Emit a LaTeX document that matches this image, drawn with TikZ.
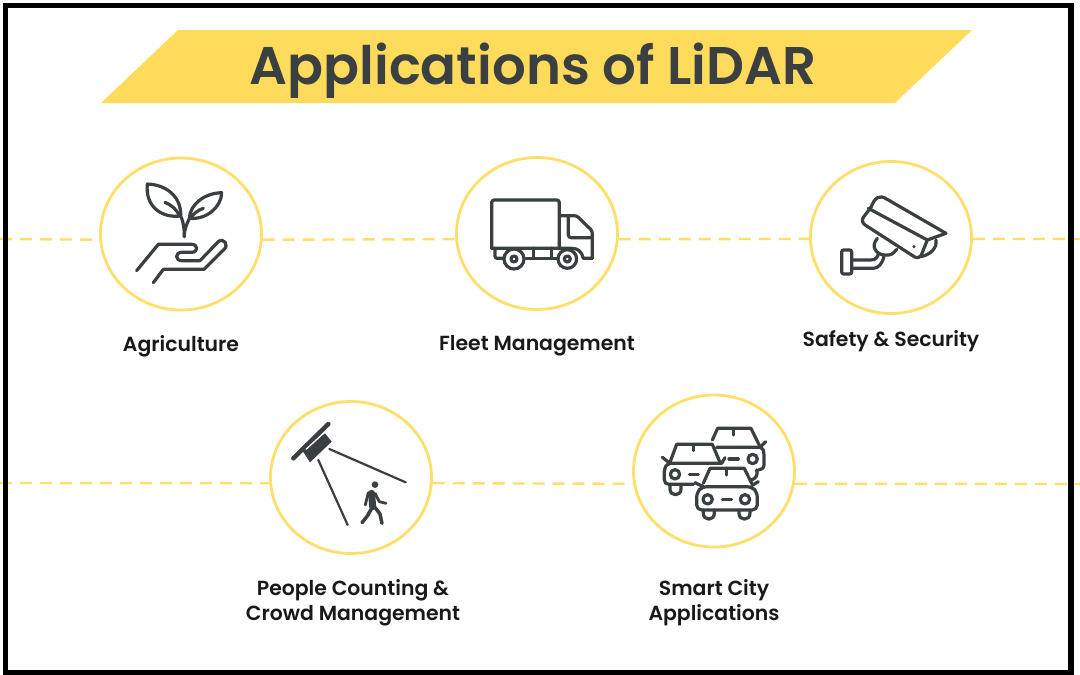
\documentclass[tikz,border=0pt]{standalone}
\usepackage{fontspec}
\setmainfont{Poppins}[BoldFont={Poppins SemiBold}]
\usetikzlibrary{shapes.geometric}
\definecolor{lyellow}{RGB}{255, 222, 105}
\definecolor{banner}{RGB}{255, 219, 92}
\definecolor{dgray}{RGB}{58, 63, 65}
\definecolor{ltext}{RGB}{25, 25, 25}
\tikzset{
	ring/.style = {ellipse, draw = lyellow, line width = 2.8pt, fill = white, minimum width = 161pt, minimum height = 152pt, inner sep = 0pt},
	dashline/.style = {draw = lyellow, line width = 2.4pt, dash pattern = on 12pt off 8pt},
	lab/.style = {text = ltext, font = \fontsize{20.4}{25}\selectfont\bfseries, align = center, inner sep = 0pt},
	ico/.style = {draw = dgray, line width = 3.2pt, line cap = round, line join = round},
	icon/.style = {shift = {#1}, x = 0.3333pt, y = -0.3333pt}
}
\begin{document}
\begin{tikzpicture}[x = 1pt, y = -1pt]
			\useasboundingbox (0,0) rectangle (1080,675);
			\fill[white] (0,0) rectangle (1080,675);
			\fill[banner] (101,103) -- (178,30) -- (972,30) -- (895,103) -- cycle;
			\node (title) at (533,71) [text = dgray, font = \fontsize{53}{60}\selectfont\bfseries] {Applications of LiDAR};
			\node (agri) at (181,234) [ring] {};
			\node (fleet) at (537,233.5) [ring] {};
			\node (safe) at (891,237.5) [ring] {};
			\node (people) at (351,477.5) [ring] {};
			\node (city) at (714,471) [ring] {};
			\coordinate (la) at (0,239);
			\coordinate (ra) at (1080,239);
			\coordinate (lb) at (0,483);
			\coordinate (rb) at (1080,484);
			\draw[dashline] (la) -- (agri.184);
			\draw[dashline] (agri.-4) -- (fleet.184);
			\draw[dashline] (fleet.-4) -- (safe.181);
			\draw[dashline] (safe.-1) -- (ra);
			\draw[dashline] (lb) -- (people.184);
			\draw[dashline] (people.-4) -- (city.189);
			\draw[dashline] (city.-9) -- (rb);
			\draw[black, line width = 5.5pt] (5.5,5.5) rectangle (1071,672.5);
			\node (agrilab) at (181,346) [lab] {Agriculture};
			\node (fleetlab) at (537,346) [lab] {Fleet Management};
			\node (safelab) at (891,341) [lab] {Safety \& Security};
			\node (peoplelab) at (353,603) [lab] {People Counting \&\\Crowd Management};
			\node (citylab) at (714,603) [lab] {Smart City\\Applications};
			% plant in hand
			\begin{scope}[icon = {(90,150)}]
				\draw[ico] (272,198) .. controls (275,150) and (240,105) .. (172,102) .. controls (165,170) and (215,205) .. (272,198) .. controls (282,220) and (283,240) .. (283,260);
				\draw[ico] (283,260) .. controls (283,235) and (290,225) .. (298,205) .. controls (300,165) and (340,130) .. (395,128) .. controls (395,170) and (350,210) .. (298,205);
				\draw[ico] (225,157) .. controls (245,165) and (258,178) .. (268,195);
				\draw[ico] (340,175) .. controls (325,180) and (312,190) .. (305,200);
				\draw[ico] (140,362) -- (205,283) -- (305,283) .. controls (325,283) and (325,307) .. (305,307) -- (275,307) .. controls (255,307) and (255,332) .. (275,332) -- (330,332) -- (385,275) .. controls (400,262) and (420,285) .. (400,300) -- (342,358) -- (220,358) -- (190,398);
			\end{scope}
			% truck
			\begin{scope}[icon = {(450,150)}]
				\draw[ico, rounded corners = 2.5pt] (125,295) -- (125,150) -- (328,150) -- (328,295);
				\draw[ico] (125,295) -- (365,295) .. controls (385,295) and (395,305) .. (400,325) -- (427,325);
				\draw[ico, rounded corners = 2.5pt] (328,197) -- (380,197) -- (427,243) -- (427,325);
				\draw[ico, rounded corners = 2.5pt] (355,197) -- (355,263) -- (427,263);
				\draw[ico, rounded corners = 2pt] (135,295) -- (135,325) -- (160,325);
				\draw[ico] (228,325) -- (325,325);
				\draw[ico] (250,295) -- (250,325);
				\draw[ico] (305,295) -- (305,325);
				\draw[ico, fill = white] (192,327) circle [radius = 30];
				\draw[ico] (192,327) circle [radius = 9];
				\draw[ico, fill = white] (352,327) circle [radius = 28];
				\draw[ico] (352,327) circle [radius = 9];
			\end{scope}
			% camera
			\begin{scope}[icon = {(800,150)}]
				\draw[ico, rounded corners = 6pt] (213,172) -- (180,215) -- (358,330) -- (382,270);
				\draw[ico] (213,172) .. controls (225,140) and (240,135) .. (258,146) -- (438,250) -- (382,270) -- (205,175);
				\draw[ico] (408,270) .. controls (412,295) and (390,315) .. (362,320);
				\fill[dgray] (342,290) circle [radius = 5];
				\draw[ico] (232,265) .. controls (210,290) and (230,315) .. (255,315) .. controls (270,318) and (282,310) .. (290,298);
				\draw[ico] (155,330) -- (212,330) .. controls (228,330) and (232,322) .. (235,312);
				\draw[ico] (155,355) -- (220,355) .. controls (235,355) and (248,340) .. (252,318);
				\draw[ico, rounded corners = 2pt] (125,300) rectangle (155,372);
			\end{scope}
			% sensor and walking person
			\begin{scope}[icon = {(260,390)}]
				\draw[ico, line width = 4.5pt] (100,205) -- (205,102);
				\fill[dgray] (128,183) -- (195,130) -- (215,155) -- (150,217) -- cycle;
				\draw[white, line width = 1.2pt] (138,178) -- (182,138);
				\draw[ico, line width = 2.2pt] (175,210) -- (263,405);
				\draw[ico, line width = 2.2pt] (208,177) -- (437,277);
				\fill[dgray] (345,284) circle [radius = 10];
				\draw[ico, line width = 7pt] (335,310) -- (338,350);
				\draw[ico, line width = 3.5pt] (338,350) -- (322,378) -- (306,398);
				\draw[ico, line width = 3.5pt] (343,350) -- (360,372) -- (366,400);
				\draw[ico, line width = 2.8pt] (325,308) -- (316,345);
				\draw[ico, line width = 2.8pt] (345,310) -- (358,335) -- (378,340);
			\end{scope}
			% three cars
			\begin{scope}[icon = {(625,385)}]
				\draw[ico] (262,165) -- (278,130) -- (378,130) -- (405,185);
				\draw[ico] (325,130) -- (325,150);
				\draw[ico] (275,187) -- (405,187) -- (422,170);
				\draw[ico] (405,187) .. controls (417,192) and (417,200) .. (417,210) -- (417,240) .. controls (417,250) and (408,255) .. (400,255);
				\draw[ico] (383,222) circle [radius = 14];
				\draw[ico] (312,222) -- (340,222);
				\draw[ico] (395,255) .. controls (400,270) and (392,282) .. (378,285);
				\draw[ico, fill = white] (135,232) -- (155,178) -- (262,178) -- (285,232);
				\draw[ico] (205,178) -- (205,197);
				\draw[ico] (112,217) -- (135,235) -- (290,235) -- (300,218);
				\draw[ico] (135,235) .. controls (122,240) and (118,248) .. (118,258) -- (118,285) .. controls (118,293) and (124,298) .. (132,298) -- (205,298);
				\draw[ico] (150,268) circle [radius = 14];
				\draw[ico] (193,268) -- (220,268);
				\draw[ico] (135,298) -- (135,312) .. controls (135,335) and (168,335) .. (168,312) -- (168,298);
				\draw[ico, fill = white, rounded corners = 5pt] (232,305) -- (215,322) -- (215,375) -- (397,375) -- (397,322) -- (380,305) -- cycle;
				\draw[ico, fill = white] (235,295) -- (255,250) -- (358,250) -- (380,295);
				\draw[ico] (305,250) -- (305,270);
				\draw[ico] (210,293) -- (235,305);
				\draw[ico] (380,302) -- (400,290);
				\draw[ico] (248,343) circle [radius = 14];
				\draw[ico] (360,343) circle [radius = 14];
				\draw[ico] (292,343) -- (320,343);
				\draw[ico] (235,375) -- (235,385) .. controls (235,408) and (268,408) .. (268,385) -- (268,375);
				\draw[ico] (342,375) -- (342,385) .. controls (342,408) and (375,408) .. (375,385) -- (375,375);
			\end{scope}
			\end{tikzpicture}
\end{document}
